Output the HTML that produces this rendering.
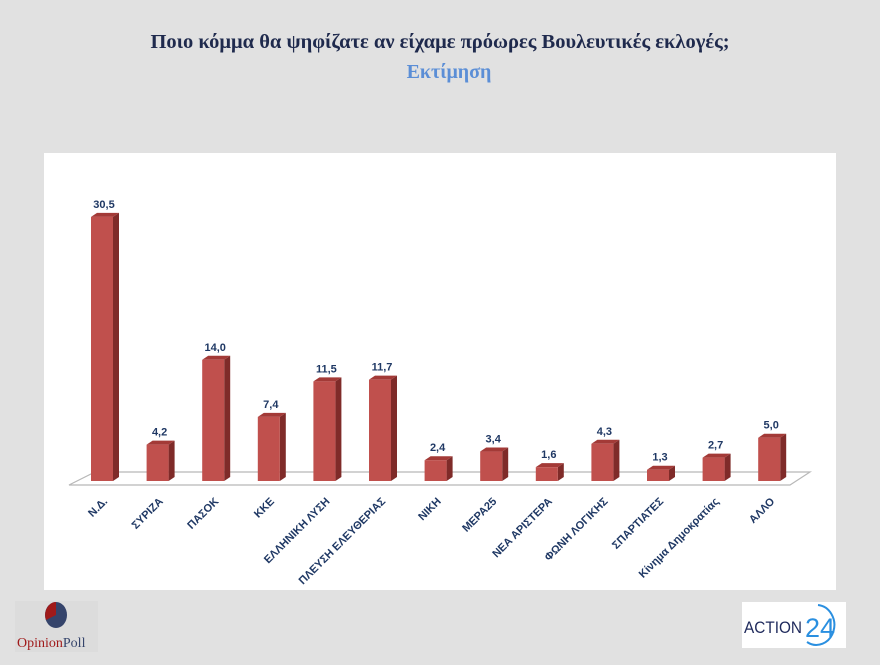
<!DOCTYPE html>
<html><head><meta charset="utf-8"><style>
body{margin:0;background:#e1e1e1;width:880px;height:660px;overflow:hidden;font-family:"Liberation Sans",sans-serif}
</style></head><body>
<svg width="880" height="660">
<rect x="0" y="0" width="880" height="660" fill="#e1e1e1"/>
<text x="440" y="48" text-anchor="middle" font-family="Liberation Serif, serif" font-weight="bold" font-size="20.5" fill="#1f2a4d">Ποιο κόμμα θα ψηφίζατε αν είχαμε πρόωρες Βουλευτικές εκλογές;</text>
<text x="449" y="78" text-anchor="middle" font-family="Liberation Serif, serif" font-weight="bold" font-size="20" fill="#5b8ed6">Εκτίμηση</text>
<rect x="44" y="153" width="792" height="437" fill="#ffffff"/>
<polygon points="69,485 95,472 810,472 790,485" fill="#ffffff" stroke="#b8b8b8" stroke-width="1.2"/>
<g id="bars"></g>
<g id="labels"></g>
<g>
<rect x="15" y="601" width="83" height="51" fill="#dcdcdc"/>
<ellipse cx="56" cy="615" rx="11" ry="13" fill="#35446b"/>
<path d="M56,602 A11,13 0 0,0 46,620 L56,615 Z" fill="#a01a1a"/>
<text x="17" y="647" font-family="Liberation Serif, serif" font-size="14" fill="#a01a1a">Opinion<tspan fill="#35446b">Poll</tspan></text>
</g>
<g>
<rect x="742" y="602" width="104" height="46" fill="#ffffff"/>
<text x="744" y="633" font-size="17" fill="#1f2a5c" textLength="58" lengthAdjust="spacingAndGlyphs">ACTION</text>
<text x="805" y="637" font-size="27" fill="#2a8fe0">24</text>
<path d="M818,605 A18,20 0 1,1 807,642" fill="none" stroke="#2a8fe0" stroke-width="2"/>
</g>
</svg>
<script>
const categories=["Ν.Δ.","ΣΥΡΙΖΑ","ΠΑΣΟΚ","ΚΚΕ","ΕΛΛΗΝΙΚΗ ΛΥΣΗ","ΠΛΕΥΣΗ ΕΛΕΥΘΕΡΙΑΣ","ΝΙΚΗ","ΜΕΡΑ25","ΝΕΑ ΑΡΙΣΤΕΡΑ","ΦΩΝΗ ΛΟΓΙΚΗΣ","ΣΠΑΡΤΙΑΤΕΣ","Κίνημα Δημοκρατίας","ΑΛΛΟ"];
const values=[30.5,4.2,14.0,7.4,11.5,11.7,2.4,3.4,1.6,4.3,1.3,2.7,5.0];
const valueLabels=["30,5","4,2","14,0","7,4","11,5","11,7","2,4","3,4","1,6","4,3","1,3","2,7","5,0"];
const NS="http://www.w3.org/2000/svg";
const base=481,scale=8.66,x0=91,step=55.6,bw=22,dx=6,dy=4;
function xPos(i){return x0+i*step;}
function yPos(v){return base-v*scale;}
const bars=document.getElementById('bars'),labels=document.getElementById('labels');
function mk(tag,attrs,parent){const e=document.createElementNS(NS,tag);for(const k in attrs)e.setAttribute(k,attrs[k]);parent.appendChild(e);return e;}
values.forEach((v,i)=>{
 const x=xPos(i),y=yPos(v);
 const g=mk('g',{},bars);
 
 
 mk('polygon',{points:`${x+bw},${y} ${x+bw+dx},${y-dy} ${x+bw+dx},${base-dy} ${x+bw},${base}`,fill:'#7f2b29'},g);
 mk('polygon',{points:`${x},${y} ${x+dx},${y-dy} ${x+bw+dx},${y-dy} ${x+bw},${y}`,fill:'#a33a37'},g);
 mk('rect',{x:x,y:y,width:bw,height:base-y,fill:'#c0504d'},g);
 const t=mk('text',{x:x+bw/2+2,y:y-9,'text-anchor':'middle','font-size':'11','font-weight':'bold',fill:'#1f3864'},labels);
 t.textContent=valueLabels[i];
 
 
 const cx=x+bw/2+6,cy=502;
 const c=mk('text',{x:cx,y:cy,'text-anchor':'end','font-size':'11','font-weight':'bold',fill:'#1f3864',transform:`rotate(-45 ${cx} ${cy})`},labels);
 c.textContent=categories[i];
 
 
});
</script>
</body></html>
